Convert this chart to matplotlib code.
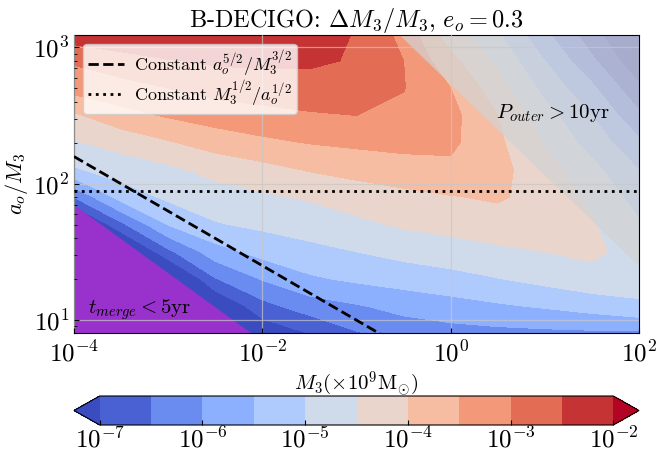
import numpy as np
import matplotlib
matplotlib.use('Agg')
import matplotlib.pyplot as plt
from matplotlib.ticker import FixedLocator, FuncFormatter, NullLocator

plt.rcParams.update({
    'font.family': 'serif',
    'font.serif': ['cmr10'],
    'mathtext.fontset': 'cm',
    'axes.formatter.use_mathtext': True,
    'axes.unicode_minus': False,
})

# log10(M3 / 1e9 Msun) and log10(a_o / M3) sample points
LOGM_GRID = [-4.0, -3.5, -3.0, -2.5, -2.0, -1.5, -1.0, -0.5, 0.0, 0.5, 1.0, 1.5, 2.0]
LOGA_GRID = [0.9, 1.1, 1.3, 1.5, 1.7, 1.9, 2.1, 2.3, 2.5, 2.7, 2.9, 3.1]

# log10(Delta M3 / M3), one row per a_o/M3 value (bottom to top)
LOG_DM = [
    [-8.0, -8.0, -8.0, -8.0, -7.4, -7.0, -6.55, -6.3, -6.2, -6.15, -6.12, -6.1, -6.1],
    [-8.0, -8.0, -8.0, -7.6, -6.67, -6.25, -6.05, -5.84, -5.7, -5.57, -5.45, -5.29, -5.1],
    [-8.0, -8.0, -8.0, -6.54, -5.97, -5.58, -5.41, -5.29, -5.17, -5.02, -4.85, -4.68, -4.75],
    [-8.0, -8.0, -6.62, -5.71, -5.33, -5.14, -5.0, -4.84, -4.72, -4.6, -4.5, -4.4, -4.7],
    [-8.0, -6.62, -5.48, -5.04, -4.9, -4.78, -4.62, -4.43, -4.34, -4.22, -4.28, -4.45, -4.95],
    [-6.5, -5.3, -4.91, -4.72, -4.58, -4.45, -4.25, -4.13, -4.03, -3.94, -4.18, -4.6, -5.2],
    [-5.07, -4.76, -4.61, -4.35, -4.17, -3.97, -3.85, -3.74, -3.61, -3.86, -4.28, -4.85, -5.5],
    [-4.54, -4.34, -4.05, -3.79, -3.61, -3.48, -3.4, -3.34, -3.4, -3.9, -4.55, -5.2, -5.9],
    [-4.08, -3.67, -3.45, -3.27, -3.15, -3.05, -3.0, -3.12, -3.35, -4.0, -4.8, -5.5, -6.4],
    [-3.32, -3.19, -3.0, -2.82, -2.76, -2.72, -2.78, -2.98, -3.5, -4.3, -5.15, -5.9, -6.9],
    [-2.94, -2.7, -2.53, -2.43, -2.39, -2.41, -2.55, -3.0, -3.85, -4.6, -5.5, -6.4, -7.4],
    [-2.2, -2.1, -2.05, -2.05, -2.05, -2.1, -2.55, -3.15, -4.3, -4.95, -5.9, -6.8, -7.8],
]

LEVELS = [-7.0, -6.5, -6.0, -5.5, -5.0, -4.5, -4.0, -3.5, -3.0, -2.5, -2.0]
CBAR_TICKS = [-7, -6, -5, -4, -3, -2]

XLIM = (1e-4, 1e2)
YLIM = (8.07, 1237.0)

# reference curves: (M3, a_o/M3) anchor point and power-law index in M3
CONST_A52_M32 = (1e-4, 158.0, -0.4)
CONST_M12_A12 = 89.0
T_MERGE_5YR = (1e-4, 70.0, -0.5)
P_OUTER_10YR = (1.0, 536.0, -2.0 / 3.0)


def power_line(ref, lm):
    m0, a0, k = ref
    return np.log10(a0) + k * (lm - np.log10(m0))


fig = plt.figure(figsize=(6.56, 4.51), dpi=100)
ax = fig.add_axes([74 / 656, 1 - 332.7 / 451, 565 / 656, 298 / 451])

cs = ax.contourf(LOGM_GRID, LOGA_GRID, np.array(LOG_DM), levels=LEVELS,
                 cmap='coolwarm', extend='both', zorder=1)

lx = np.log10(XLIM)
ly = np.log10(YLIM)
lm = np.linspace(lx[0], lx[1], 400)

# merger region (bottom left) and long outer period region (top right)
merge = power_line(T_MERGE_5YR, lm)
ax.fill_between(lm, ly[0], np.maximum(merge, ly[0]), color='darkorchid', lw=0, zorder=1.5)
pout = power_line(P_OUTER_10YR, lm)
ax.fill_between(lm, np.minimum(pout, ly[1]), ly[1], color='#d2d2d2', alpha=0.72, lw=0, zorder=1.6)

ax.plot(lm, power_line(CONST_A52_M32, lm), 'k--', lw=2, zorder=3,
        label=r'Constant $a_o^{5/2}/M_3^{3/2}$')
ax.plot(lx, [np.log10(CONST_M12_A12)] * 2, 'k:', lw=2, zorder=3,
        label=r'Constant $M_3^{1/2}/a_o^{1/2}$')

ax.text(np.log10(1.4e-4), np.log10(12.0), r'$t_{merge} < 5$yr', fontsize=15,
        ha='left', va='center', zorder=4)
ax.text(np.log10(3.0), np.log10(330.0), r'$P_{outer} > 10$yr', fontsize=15,
        ha='left', va='center', zorder=4)

ax.set_xlim(lx)
ax.set_ylim(ly)

pow_fmt = FuncFormatter(lambda v, p: r'$10^{%d}$' % int(round(v)))
ax.xaxis.set_major_locator(FixedLocator([-4, -2, 0, 2]))
ax.xaxis.set_major_formatter(pow_fmt)
ax.xaxis.set_minor_locator(NullLocator())
ax.yaxis.set_major_locator(FixedLocator([1, 2, 3]))
ax.yaxis.set_major_formatter(pow_fmt)
ax.yaxis.set_minor_locator(FixedLocator(
    [np.log10(k * 10.0 ** d) for d in range(0, 4) for k in range(2, 10)]))
ax.tick_params(which='both', direction='in', labelsize=18)
ax.tick_params(axis='x', pad=6)

ax.set_axisbelow(False)
ax.grid(True, which='major', color='#c8c8c8', lw=0.9, alpha=0.7)

ax.set_xlabel(r'$M_3(\times 10^9 {\rm M}_{\odot})$', fontsize=15, labelpad=2)
ax.set_ylabel(r'$a_o/M_3$', fontsize=16, labelpad=2)
ax.set_title(r'B-DECIGO: $\Delta M_3/M_3$, $e_o = 0.3$', fontsize=17.5, pad=3)

leg = ax.legend(loc='upper left', fontsize=13, framealpha=0.8,
                borderaxespad=0.5, borderpad=0.25, handlelength=2.0,
                handletextpad=0.6, labelspacing=0.0)
leg.set_zorder(5)

cax = fig.add_axes([74 / 656, 1 - 425 / 451, 565 / 656, 29 / 451])
cb = fig.colorbar(cs, cax=cax, orientation='horizontal', ticks=CBAR_TICKS)
cb.set_ticklabels([r'$10^{%d}$' % t for t in CBAR_TICKS])
cb.ax.tick_params(direction='in', labelsize=18, pad=1)

fig.savefig('out.png', dpi=100)
